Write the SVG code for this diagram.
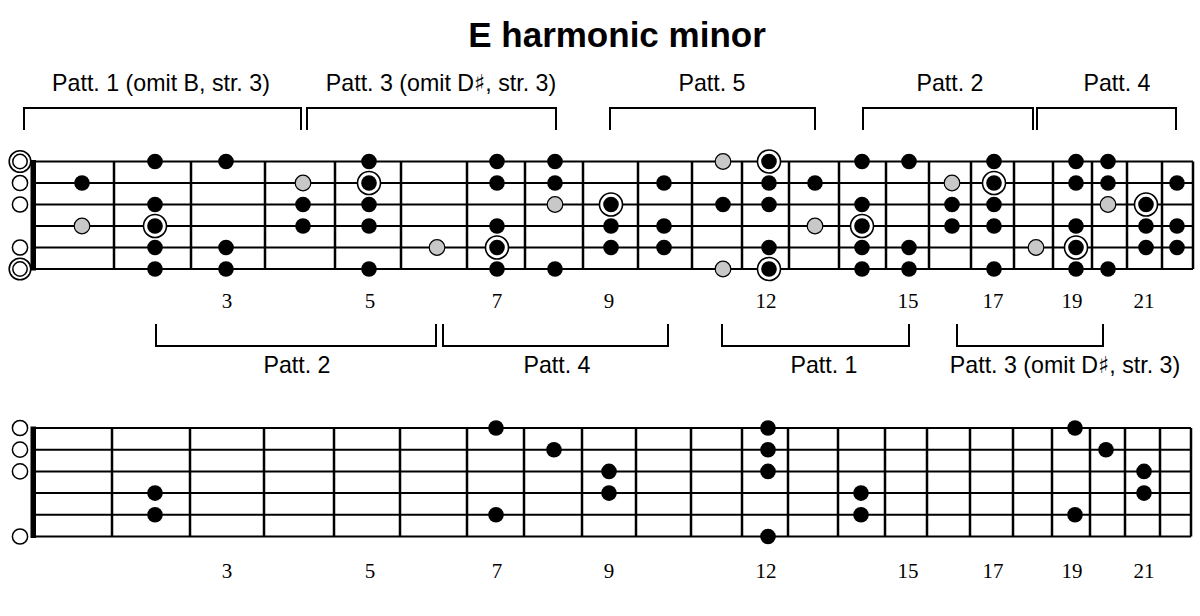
<svg xmlns="http://www.w3.org/2000/svg" xmlns:xlink="http://www.w3.org/1999/xlink" width="1200" height="616" viewBox="0 0 1200 616">
<style>
.str{stroke:#000;stroke-width:2;fill:none}
.fret{stroke:#000;stroke-width:2.5;fill:none}
.br{stroke:#000;stroke-width:2;fill:none}
.lbl{font-family:"Liberation Sans","DejaVu Sans",Arial,sans-serif;font-size:23.2px;fill:#000;text-anchor:middle}
.num{font-family:"Liberation Serif","Times New Roman",serif;font-size:21px;fill:#000;text-anchor:middle}
.title{font-family:"Liberation Sans",Arial,sans-serif;font-size:35px;font-weight:bold;fill:#000;text-anchor:middle}
</style>
<defs>
<circle id="b" r="7.8" fill="#000"/>
<circle id="g" r="7.8" fill="#c8c8c8" stroke="#000" stroke-width="1.2"/>
<g id="r"><circle r="11.5" fill="#fff" stroke="#000" stroke-width="1.6"/><circle r="7.8" fill="#000"/></g>
<circle id="o" r="7.6" fill="#fff" stroke="#000" stroke-width="1.5"/>
<g id="oo"><circle r="10.8" fill="#fff" stroke="#000" stroke-width="1.6"/><circle r="7.2" fill="#fff" stroke="#000" stroke-width="1.5"/></g>
</defs>
<rect width="1200" height="616" fill="#fff"/>
<text id="title" class="title" x="617" y="47">E harmonic minor</text>

<g id="top-brackets">
<path class="br" d="M24,130V108H301V130"/>
<path class="br" d="M307,130V108H556V130"/>
<path class="br" d="M610,130V108H815V130"/>
<path class="br" d="M863,130V108H1033V130"/>
<path class="br" d="M1037,130V108H1176V130"/>
<text class="lbl" x="161" y="91">Patt. 1 (omit B, str. 3)</text>
<text class="lbl" x="441" y="91">Patt. 3 (omit D<tspan font-family="DejaVu Sans">♯</tspan>, str. 3)</text>
<text class="lbl" x="712" y="91">Patt. 5</text>
<text class="lbl" x="950" y="91">Patt. 2</text>
<text class="lbl" x="1117" y="91">Patt. 4</text>
</g>

<g id="fretboard-top">
<path class="str" d="M33,161.5H1193M33,183H1193M33,204.5H1193M33,226H1193M33,247.5H1193M33,269H1193"/>
<path class="fret" d="M114,161.5V269M191,161.5V269M265,161.5V269M335,161.5V269M401,161.5V269M467,161.5V269M525,161.5V269M583,161.5V269M638,161.5V269M692,161.5V269M742,161.5V269M789,161.5V269M839,161.5V269M886,161.5V269M929,161.5V269M971,161.5V269M1014,161.5V269M1053,161.5V269M1092,161.5V269M1127,161.5V269M1162,161.5V269M1193,161.5V269"/>
<rect x="30.5" y="160" width="5.5" height="110.5" fill="#000"/>
</g>

<g id="open-top">
<use xlink:href="#oo" x="20" y="161.5"/>
<use xlink:href="#o" x="20" y="183"/>
<use xlink:href="#o" x="20" y="204.5"/>
<use xlink:href="#o" x="20" y="247.5"/>
<use xlink:href="#oo" x="20" y="269"/>
</g>

<g id="dots-top">
<use xlink:href="#b" x="155" y="161.5"/><use xlink:href="#b" x="226" y="161.5"/><use xlink:href="#b" x="369" y="161.5"/><use xlink:href="#b" x="497" y="161.5"/><use xlink:href="#b" x="555" y="161.5"/><use xlink:href="#g" x="723" y="161.5"/><use xlink:href="#r" x="769" y="161.5"/><use xlink:href="#b" x="862" y="161.5"/><use xlink:href="#b" x="909" y="161.5"/><use xlink:href="#b" x="994" y="161.5"/><use xlink:href="#b" x="1076" y="161.5"/><use xlink:href="#b" x="1108" y="161.5"/>
<use xlink:href="#b" x="82" y="183"/><use xlink:href="#g" x="303" y="183"/><use xlink:href="#r" x="369" y="183"/><use xlink:href="#b" x="497" y="183"/><use xlink:href="#b" x="555" y="183"/><use xlink:href="#b" x="664" y="183"/><use xlink:href="#b" x="769" y="183"/><use xlink:href="#b" x="815" y="183"/><use xlink:href="#g" x="952" y="183"/><use xlink:href="#r" x="994" y="183"/><use xlink:href="#b" x="1076" y="183"/><use xlink:href="#b" x="1108" y="183"/><use xlink:href="#b" x="1177" y="183"/>
<use xlink:href="#b" x="155" y="204.5"/><use xlink:href="#b" x="303" y="204.5"/><use xlink:href="#b" x="369" y="204.5"/><use xlink:href="#g" x="555" y="204.5"/><use xlink:href="#r" x="611" y="204.5"/><use xlink:href="#b" x="723" y="204.5"/><use xlink:href="#b" x="769" y="204.5"/><use xlink:href="#b" x="862" y="204.5"/><use xlink:href="#b" x="952" y="204.5"/><use xlink:href="#b" x="994" y="204.5"/><use xlink:href="#g" x="1108" y="204.5"/><use xlink:href="#r" x="1146" y="204.5"/>
<use xlink:href="#g" x="82" y="226"/><use xlink:href="#r" x="155" y="226"/><use xlink:href="#b" x="303" y="226"/><use xlink:href="#b" x="369" y="226"/><use xlink:href="#b" x="497" y="226"/><use xlink:href="#b" x="611" y="226"/><use xlink:href="#b" x="664" y="226"/><use xlink:href="#g" x="815" y="226"/><use xlink:href="#r" x="862" y="226"/><use xlink:href="#b" x="952" y="226"/><use xlink:href="#b" x="994" y="226"/><use xlink:href="#b" x="1076" y="226"/><use xlink:href="#b" x="1146" y="226"/><use xlink:href="#b" x="1177" y="226"/>
<use xlink:href="#b" x="155" y="247.5"/><use xlink:href="#b" x="226" y="247.5"/><use xlink:href="#g" x="437" y="247.5"/><use xlink:href="#r" x="497" y="247.5"/><use xlink:href="#b" x="611" y="247.5"/><use xlink:href="#b" x="664" y="247.5"/><use xlink:href="#b" x="769" y="247.5"/><use xlink:href="#b" x="862" y="247.5"/><use xlink:href="#b" x="909" y="247.5"/><use xlink:href="#g" x="1036" y="247.5"/><use xlink:href="#r" x="1076" y="247.5"/><use xlink:href="#b" x="1146" y="247.5"/><use xlink:href="#b" x="1177" y="247.5"/>
<use xlink:href="#b" x="155" y="269"/><use xlink:href="#b" x="226" y="269"/><use xlink:href="#b" x="369" y="269"/><use xlink:href="#b" x="497" y="269"/><use xlink:href="#b" x="555" y="269"/><use xlink:href="#g" x="723" y="269"/><use xlink:href="#r" x="769" y="269"/><use xlink:href="#b" x="862" y="269"/><use xlink:href="#b" x="909" y="269"/><use xlink:href="#b" x="994" y="269"/><use xlink:href="#b" x="1076" y="269"/><use xlink:href="#b" x="1108" y="269"/>
</g>

<g id="numbers-top">
<text class="num" x="227" y="308">3</text>
<text class="num" x="370" y="308">5</text>
<text class="num" x="497" y="308">7</text>
<text class="num" x="609" y="308">9</text>
<text class="num" x="766" y="308">12</text>
<text class="num" x="908" y="308">15</text>
<text class="num" x="993" y="308">17</text>
<text class="num" x="1072" y="308">19</text>
<text class="num" x="1144" y="308">21</text>
</g>

<g id="bottom-brackets">
<path class="br" d="M156,324V346H436V324"/>
<path class="br" d="M443,324V346H668V324"/>
<path class="br" d="M722,324V346H909V324"/>
<path class="br" d="M957,324V346H1103V324"/>
<text class="lbl" x="297" y="373">Patt. 2</text>
<text class="lbl" x="557" y="373">Patt. 4</text>
<text class="lbl" x="824" y="373">Patt. 1</text>
<text class="lbl" x="1065" y="373">Patt. 3 (omit D<tspan font-family="DejaVu Sans">♯</tspan>, str. 3)</text>
</g>

<g id="fretboard-bottom">
<path class="str" d="M33,428H1191M33,449.7H1191M33,471.4H1191M33,493.1H1191M33,514.8H1191M33,536.5H1191"/>
<path class="fret" d="M112,428V536.5M190,428V536.5M264,428V536.5M334,428V536.5M400,428V536.5M467,428V536.5M524,428V536.5M582,428V536.5M636,428V536.5M691,428V536.5M742,428V536.5M788,428V536.5M838,428V536.5M885,428V536.5M927,428V536.5M970,428V536.5M1013,428V536.5M1052,428V536.5M1090,428V536.5M1125,428V536.5M1160,428V536.5M1191,428V536.5"/>
<rect x="30.5" y="426.5" width="5.5" height="111.5" fill="#000"/>
</g>

<g id="open-bottom">
<use xlink:href="#o" x="20" y="428"/>
<use xlink:href="#o" x="20" y="449.7"/>
<use xlink:href="#o" x="20" y="471.4"/>
<use xlink:href="#o" x="20" y="536.5"/>
</g>

<g id="dots-bottom">
<use xlink:href="#b" x="155" y="493.1"/><use xlink:href="#b" x="155" y="514.8"/>
<use xlink:href="#b" x="496" y="428"/><use xlink:href="#b" x="496" y="514.8"/>
<use xlink:href="#b" x="554" y="449.7"/>
<use xlink:href="#b" x="609" y="471.4"/><use xlink:href="#b" x="609" y="493.1"/>
<use xlink:href="#b" x="768" y="428"/><use xlink:href="#b" x="768" y="449.7"/><use xlink:href="#b" x="768" y="471.4"/><use xlink:href="#b" x="768" y="536.5"/>
<use xlink:href="#b" x="861" y="493.1"/><use xlink:href="#b" x="861" y="514.8"/>
<use xlink:href="#b" x="1075" y="428"/><use xlink:href="#b" x="1075" y="514.8"/>
<use xlink:href="#b" x="1106" y="449.7"/>
<use xlink:href="#b" x="1144" y="471.4"/><use xlink:href="#b" x="1144" y="493.1"/>
</g>

<g id="numbers-bottom">
<text class="num" x="227" y="578">3</text>
<text class="num" x="370" y="578">5</text>
<text class="num" x="497" y="578">7</text>
<text class="num" x="609" y="578">9</text>
<text class="num" x="766" y="578">12</text>
<text class="num" x="908" y="578">15</text>
<text class="num" x="993" y="578">17</text>
<text class="num" x="1072" y="578">19</text>
<text class="num" x="1144" y="578">21</text>
</g>
</svg>
